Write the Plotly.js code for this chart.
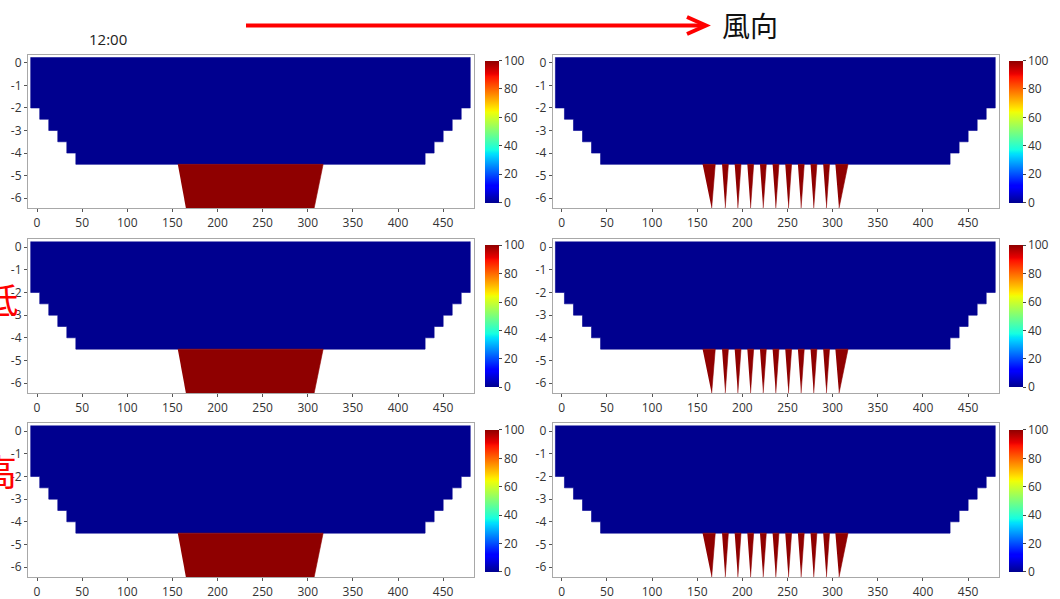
<!DOCTYPE html>
<html>
<head>
<meta charset="utf-8">
<script src="https://cdn.plot.ly/plotly-3.0.1.min.js"></script>
<style>html,body{margin:0;padding:0;background:#fff;}#chart{width:1060px;height:599px;}</style>
</head>
<body>
<div id="chart"></div>
<script>
// ---------------- data ----------------
// blue region (value 0): stair-stepped channel outline
const bandY      = [0.25, -2, -2.5, -3, -3.5, -4, -4.5];   // band boundaries (top -> bottom)
const bandLeftX  = [-7, 3, 13, 23, 33, 43];                 // left edge of each band
const bandRightX = [480, 470, 460, 450, 440, 430];          // right edge of each band
const blueValue  = 0;

// left panels: one red trapezoid (value 100)
const trapTopX    = [156, 317];
const trapBottomX = [165, 307];
const trapY       = [-4.5, -6.45];
const redValue    = 100;

// right panels: red spikes (value 100)
const spikeTopL = [156, 177.5, 191.5, 205.5, 219.5, 233.5, 247.5, 261.5, 275.5, 289.5, 303];
const spikeTopR = [170, 184.5, 198.5, 212.5, 226.5, 240.5, 254.5, 268.5, 282.5, 296.5, 317];
const spikeTip  = [166, 181, 195, 209, 223, 237, 251, 265, 279, 293, 307];
const spikeY    = [-4.5, -6.45];

// axes
const xTicks = [0, 50, 100, 150, 200, 250, 300, 350, 400, 450];
const yTicks = [0, -1, -2, -3, -4, -5, -6];
const yTickLabels = ['0', '-1', '-2', '-3', '-4', '-5', '-6'];
const cbTicks = [0, 20, 40, 60, 80, 100];
const cbRange = [0, 100];

// texts
const timeLabel = '12:00';
const windLabel = '風向';
const rowLabels = ['低', '高'];

// ---------------- styling helpers ----------------
function jet(t) {
  function seg(pts, v) {
    for (let i = 0; i < pts.length - 1; i++) {
      const a = pts[i], b = pts[i + 1];
      if (v >= a[0] && v <= b[0]) return a[1] + (b[1] - a[1]) * (v - a[0]) / (b[0] - a[0]);
    }
    return pts[pts.length - 1][1];
  }
  const r = seg([[0,0],[0.35,0],[0.66,1],[0.89,1],[1,0.56]], t);
  const g = seg([[0,0],[0.125,0],[0.375,1],[0.64,1],[0.91,0],[1,0]], t);
  const b = seg([[0,0.56],[0.11,1],[0.34,1],[0.65,0],[1,0]], t);
  return 'rgb(' + Math.round(r*255) + ',' + Math.round(g*255) + ',' + Math.round(b*255) + ')';
}
const stops = [0,0.11,0.125,0.34,0.35,0.375,0.5,0.64,0.65,0.66,0.89,0.91,1];
const jetScale = stops.map(s => [s, jet(s)]);
const colorOf = v => jet((v - cbRange[0]) / (cbRange[1] - cbRange[0]));

const W = 1060, H = 599;
const px = x => x / W;
const py = y => 1 - y / H;

const colDomains = [[28/W, 474.3/W], [552.7/W, 999.3/W]];
const rowDomains = [[py(208.3), py(55)], [py(393.3), py(239.3)], [py(577.3), py(423.3)]];
const cbX = [485/W, 1009/W];
const cbYc = [py(131.5), py(316.2), py(500.9)];
const tickFont = {family: 'Open Sans, Noto Sans, sans-serif', size: 12, color: '#333'};

// ---------------- polygons from data ----------------
function bluePolygon() {
  const xs = [], ys = [];
  for (let i = 0; i < bandLeftX.length; i++) {
    xs.push(bandLeftX[i], bandLeftX[i]);
    ys.push(bandY[i], bandY[i + 1]);
  }
  for (let i = bandRightX.length - 1; i >= 0; i--) {
    xs.push(bandRightX[i], bandRightX[i]);
    ys.push(bandY[i + 1], bandY[i]);
  }
  return {x: xs, y: ys};
}
function trapPolygon() {
  return {x: [trapTopX[0], trapTopX[1], trapBottomX[1], trapBottomX[0]],
          y: [trapY[0], trapY[0], trapY[1], trapY[1]]};
}
function spikePolygons() {
  const xs = [], ys = [];
  for (let i = 0; i < spikeTip.length; i++) {
    xs.push(spikeTopL[i], spikeTopR[i], spikeTip[i], null);
    ys.push(spikeY[0], spikeY[0], spikeY[1], null);
  }
  return {x: xs, y: ys};
}

const traces = [];
const layout = {
  width: W, height: H,
  margin: {l: 0, r: 0, t: 0, b: 0},
  paper_bgcolor: '#fff', plot_bgcolor: '#fff',
  showlegend: false,
  hovermode: false,
  shapes: [], annotations: []
};

for (let r = 0; r < 3; r++) {
  for (let c = 0; c < 2; c++) {
    const idx = r * 2 + c + 1;
    const xa = 'x' + (idx === 1 ? '' : idx);
    const ya = 'y' + (idx === 1 ? '' : idx);
    const bp = bluePolygon();
    traces.push({type: 'scatter', mode: 'lines', x: bp.x, y: bp.y, xaxis: xa, yaxis: ya,
      fill: 'toself', fillcolor: colorOf(blueValue), line: {width: 0.6, color: colorOf(blueValue)}});
    const rp = c === 0 ? trapPolygon() : spikePolygons();
    traces.push({type: 'scatter', mode: 'lines', x: rp.x, y: rp.y, xaxis: xa, yaxis: ya,
      fill: 'toself', fillcolor: colorOf(redValue), line: {width: 0.6, color: colorOf(redValue)}});
    // invisible colorbar carrier (value range of the panel)
    traces.push({type: 'scatter', mode: 'markers', x: [bp.x[0], bp.x[0]], y: [bp.y[0], bp.y[0]],
      xaxis: xa, yaxis: ya,
      marker: {size: 1, opacity: 0, color: cbRange, cmin: cbRange[0], cmax: cbRange[1], colorscale: jetScale,
        showscale: true,
        colorbar: {x: cbX[c], xanchor: 'left', xpad: 0, y: cbYc[r], yanchor: 'middle', ypad: 0,
          thickness: 14.3, thicknessmode: 'pixels', len: 141.5, lenmode: 'pixels',
          outlinewidth: 0, tickvals: cbTicks, ticks: 'outside', ticklen: 3, tickcolor: '#444',
          tickfont: tickFont}}});

    layout['xaxis' + (idx === 1 ? '' : idx)] = {
      domain: colDomains[c], anchor: ya, range: [-10, 484.5],
      tickvals: xTicks, ticks: 'outside', ticklen: 3, tickcolor: '#555',
      showline: true, linecolor: '#a8a8a8', linewidth: 1, mirror: true,
      showgrid: false, zeroline: false, tickfont: tickFont, fixedrange: true
    };
    layout['yaxis' + (idx === 1 ? '' : idx)] = {
      domain: rowDomains[r], anchor: xa, range: [-6.45, 0.35],
      tickvals: yTicks, ticktext: yTickLabels, ticks: 'outside', ticklen: 3, tickcolor: '#555',
      showline: true, linecolor: '#a8a8a8', linewidth: 1, mirror: true,
      showgrid: false, zeroline: false, tickfont: tickFont, fixedrange: true
    };
  }
}

// wind arrow
layout.shapes.push({type: 'line', xref: 'paper', yref: 'paper',
  x0: px(246), y0: py(25.5), x1: px(705), y1: py(25.5), line: {color: '#ff0000', width: 4}});
layout.shapes.push({type: 'path', xref: 'paper', yref: 'paper',
  path: 'M ' + px(687) + ' ' + py(17) + ' L ' + px(706) + ' ' + py(25.5) + ' L ' + px(687) + ' ' + py(34),
  line: {color: '#ff0000', width: 4}});

layout.annotations.push({xref: 'paper', yref: 'paper', x: px(108), y: py(39), xanchor: 'center', yanchor: 'middle',
  text: timeLabel, showarrow: false, font: {family: 'Open Sans, Noto Sans, sans-serif', size: 15, color: '#222'}});
layout.annotations.push({xref: 'paper', yref: 'paper', x: px(750), y: py(25), xanchor: 'center', yanchor: 'middle',
  text: windLabel, showarrow: false, font: {family: 'Noto Sans CJK JP', size: 28, color: '#111'}});
layout.annotations.push({xref: 'paper', yref: 'paper', x: px(0), y: py(298), xanchor: 'center', yanchor: 'middle',
  text: rowLabels[0], showarrow: false, font: {family: 'Noto Sans CJK JP', size: 36, color: '#ff0000'}});
layout.annotations.push({xref: 'paper', yref: 'paper', x: px(-1), y: py(470), xanchor: 'center', yanchor: 'middle',
  text: rowLabels[1], showarrow: false, font: {family: 'Noto Sans CJK JP', size: 36, color: '#ff0000'}});

Plotly.newPlot('chart', traces, layout, {displayModeBar: false, staticPlot: true});
</script>
</body>
</html>
